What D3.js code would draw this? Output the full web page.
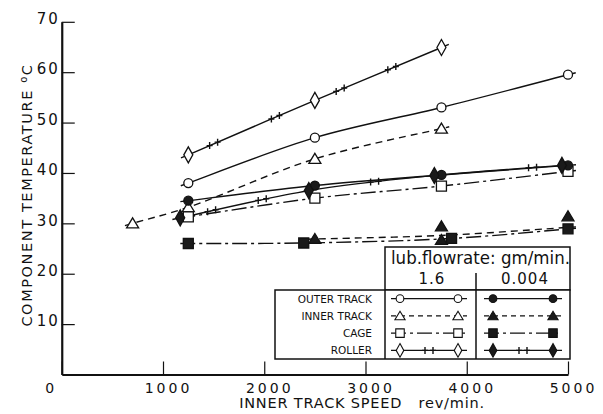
<!DOCTYPE html>
<html>
<head>
<meta charset="utf-8">
<script src="https://cdn.jsdelivr.net/npm/d3@7"></script>
<style>
    body { margin: 0; background: #fff; }
    svg { display: block; font-family: "DejaVu Sans", sans-serif; }
</style>
</head>
<body>
<svg id="chart" width="603" height="414"></svg>
<script>
// readings: [rev/min, deg C]
const outer16 = [[1250, 38.0], [2500, 47.0], [3750, 53.0], [5000, 59.5]]
const inner16 = [[700, 30.0], [1250, 33.2], [2500, 42.8], [3750, 48.8]]
const cage16 = [[1250, 31.3], [2500, 35.0], [3750, 37.4], [5000, 40.3]]
const roller16 = [[1250, 43.6], [2500, 54.4], [3750, 64.9]]

const outer0004 = [[1250, 34.5], [2500, 37.5], [3750, 39.6], [5000, 41.5]]
const inner0004 = [[2500, 26.9], [3750, 29.4], [3750, 26.7], [5000, 31.4]]
const inner0004Curve = [[2500, 26.9], [3750, 27.6], [5000, 29.2]]
const cage0004 = [[1250, 26.0], [2390, 26.1], [3850, 27.0], [5000, 28.9]]
const roller0004 = [[1170, 31.1], [2440, 36.5], [3680, 39.5], [4940, 41.5]]

// where the "++" marks sit on the roller curves (rev/min)
const roller16Crosses = [1500, 2110, 2750, 3260]
const roller0004Crosses = [1480, 1980, 3090, 4650]

const xTicks = [0, 1000, 2000, 3000, 4000, 5000]
const yTicks = [10, 20, 30, 40, 50, 60, 70]
const rowLabels = ["OUTER TRACK", "INNER TRACK", "CAGE", "ROLLER"]
const flowrates = ["1.6", "0.004"]

const svg = d3.select("#chart")

const x = d3.scaleLinear().domain([0, 5000]).range([61.75, 568])
const y = d3.scaleLinear().domain([0, 70]).range([374.5, 21.8])

// line styles by component
const dashes = {line: null, dashed: "7,5", dashdot: "15,4,3,4", roller: null}

const series = [
    {data: outer16, curve: outer16, shape: "circle", filled: false, style: "line"},
    {data: inner16, curve: inner16, shape: "triangle", filled: false, style: "dashed"},
    {data: cage16, curve: cage16, shape: "square", filled: false, style: "dashdot"},
    {data: roller16, curve: roller16, shape: "diamond", filled: false, style: "roller", crosses: roller16Crosses},
    {data: outer0004, curve: outer0004, shape: "circle", filled: true, style: "line"},
    {data: inner0004, curve: inner0004Curve, shape: "triangle", filled: true, style: "dashed"},
    {data: cage0004, curve: cage0004, shape: "square", filled: true, style: "dashdot"},
    {data: roller0004, curve: roller0004, shape: "diamond", filled: true, style: "roller", crosses: roller0004Crosses}
]

function shapePath(shape) {
    if (shape == "circle") return "M4.5,0A4.5,4.5 0 1,1 -4.5,0A4.5,4.5 0 1,1 4.5,0Z"
    if (shape == "triangle") return "M0,-5.5L6,4.5L-6,4.5Z"
    if (shape == "square") return "M-5,-5H5V5H-5Z"
    return "M0,-8L4.5,0L0,8L-4.5,0Z"
}

// axes
const yAxis = d3.axisLeft(y).tickValues(yTicks).tickFormat(d3.format("d"))
    .tickSize(-13).tickSizeOuter(0).tickPadding(2)
const xAxis = d3.axisBottom(x).tickValues(xTicks).tickFormat(d3.format("d"))
    .tickSize(-13).tickSizeOuter(0).tickPadding(9)

const gy = svg.append("g")
    .attr("transform", `translate(${x(0)},0)`)
    .call(yAxis)
gy.select(".domain").attr("stroke", "#111").attr("stroke-width", 2.2)
gy.selectAll(".tick line").attr("stroke", "#111").attr("stroke-width", 1.2)
gy.selectAll(".tick text")
    .attr("fill", "#111").attr("font-size", 15).attr("letter-spacing", 2)
    .attr("font-family", "DejaVu Sans").attr("y", -3)

const gx = svg.append("g")
    .attr("transform", `translate(0,${y(0)})`)
    .call(xAxis)
gx.select(".domain").attr("stroke", "#111").attr("stroke-width", 2.2)
gx.selectAll(".tick line").attr("stroke", "#111").attr("stroke-width", 1.2)
gx.selectAll(".tick text")
    .attr("fill", "#111").attr("font-size", 14).attr("letter-spacing", 3)
    .attr("font-family", "DejaVu Sans")
    .attr("x", d => d == 0 ? -11 : 5)

svg.append("text")
    .attr("x", 362).attr("y", 408)
    .attr("text-anchor", "middle")
    .attr("font-size", 14.5).attr("fill", "#111")
    .attr("letter-spacing", 0.8)
    .attr("xml:space", "preserve")
    .text("INNER TRACK SPEED   rev/min.")

svg.append("text")
    .attr("transform", "translate(32,195) rotate(-90)")
    .attr("text-anchor", "middle")
    .attr("font-size", 14.5).attr("fill", "#111")
    .attr("letter-spacing", 1.6)
    .text("COMPONENT TEMPERATURE ")
    .append("tspan").attr("font-size", 10).attr("dy", -5).text("o")
    .append("tspan").attr("font-size", 14.5).attr("dy", 5).text("C")

// curves
const lineGen = d3.line().curve(d3.curveCatmullRom.alpha(0.5))

function withStubs(pts, len) {
    let a = pts[0], b = pts[1]
    let n = pts.length
    let c = pts[n - 1], d = pts[n - 2]
    let l1 = Math.hypot(a[0] - b[0], a[1] - b[1])
    let l2 = Math.hypot(c[0] - d[0], c[1] - d[1])
    let start = [a[0] + (a[0] - b[0]) / l1 * len, a[1] + (a[1] - b[1]) / l1 * len]
    let end = [c[0] + (c[0] - d[0]) / l2 * len, c[1] + (c[1] - d[1]) / l2 * len]
    return [start, ...pts, end]
}

function pointAtX(node, px) {
    let lo = 0, hi = node.getTotalLength()
    for (let i = 0; i < 30; i++) {
        let mid = (lo + hi) / 2
        if (node.getPointAtLength(mid).x < px) lo = mid
        else hi = mid
    }
    return node.getPointAtLength(lo)
}

function drawCrosses(g, pts) {
    g.selectAll(".cross").data(pts)
        .join("path")
        .attr("class", "cross")
        .attr("d", "M-3,0H3M0,-3.5V3.5")
        .attr("transform", p => `translate(${p[0]},${p[1]})`)
        .attr("stroke", "#111").attr("stroke-width", 1.4).attr("fill", "none")
}

const plot = svg.append("g")
series.forEach(s => {
    let pts = s.curve.map(d => [x(d[0]), y(d[1])])
    let path = plot.append("path")
        .attr("d", lineGen(withStubs(pts, 8)))
        .attr("fill", "none")
        .attr("stroke", "#111")
        .attr("stroke-width", 1.4)
        .attr("stroke-dasharray", dashes[s.style])
    if (s.crosses) {
        let node = path.node()
        let cp = []
        s.crosses.forEach(v => {
            let px = x(v)
            let p1 = pointAtX(node, px - 4), p2 = pointAtX(node, px + 4)
            cp.push([p1.x, p1.y], [p2.x, p2.y])
        })
        drawCrosses(plot.append("g"), cp)
    }
})

series.forEach(s => {
    plot.append("g").selectAll("path").data(s.data)
        .join("path")
        .attr("d", shapePath(s.shape))
        .attr("transform", d => `translate(${x(d[0])},${y(d[1])})`)
        .attr("fill", s.filled ? "#1a1a1a" : "#fff")
        .attr("stroke", "#111")
        .attr("stroke-width", 1.3)
})

// legend table
const lg = svg.append("g")
const box = {left: 275, mid: 385, div: 476, right: 570, top: 247, head: 290, bottom: 359}

lg.append("rect")
    .attr("x", box.mid).attr("y", box.top)
    .attr("width", box.right - box.mid).attr("height", box.head - box.top)
    .attr("fill", "#fff").attr("stroke", "#111").attr("stroke-width", 1.5)
lg.append("rect")
    .attr("x", box.left).attr("y", box.head)
    .attr("width", box.right - box.left).attr("height", box.bottom - box.head)
    .attr("fill", "#fff").attr("stroke", "#111").attr("stroke-width", 1.5)
lg.append("line")
    .attr("x1", box.mid).attr("x2", box.mid).attr("y1", box.head).attr("y2", box.bottom)
    .attr("stroke", "#111").attr("stroke-width", 1.5)
lg.append("line")
    .attr("x1", box.div).attr("x2", box.div).attr("y1", 273).attr("y2", box.bottom)
    .attr("stroke", "#111").attr("stroke-width", 1.5)

lg.append("text")
    .attr("x", 391).attr("y", 264)
    .attr("font-size", 17).attr("fill", "#111")
    .attr("textLength", 179).attr("lengthAdjust", "spacingAndGlyphs")
    .text("lub.flowrate: gm/min.")

lg.selectAll(".flow").data(flowrates)
    .join("text")
    .attr("class", "flow")
    .attr("x", (d, i) => i == 0 ? 432 : 525)
    .attr("y", 284)
    .attr("text-anchor", "middle")
    .attr("font-size", 15).attr("fill", "#111")
    .attr("letter-spacing", 1)
    .text(d => d)

const rowH = (box.bottom - box.head) / rowLabels.length
const rowY = i => box.head + rowH * (i + 0.5)

lg.selectAll(".rowlabel").data(rowLabels)
    .join("text")
    .attr("class", "rowlabel")
    .attr("x", 372)
    .attr("y", (d, i) => rowY(i) + 4)
    .attr("text-anchor", "end")
    .attr("font-size", 10.5).attr("fill", "#111")
    .text(d => d)

const cols = [[400, 458], [493, 553]]
series.forEach((s, k) => {
    let col = s.filled ? 1 : 0
    let row = k % 4
    let cy = rowY(row)
    let [a, b] = cols[col]
    lg.append("line")
        .attr("x1", a - 9).attr("x2", b + 9).attr("y1", cy).attr("y2", cy)
        .attr("stroke", "#111").attr("stroke-width", 1.2)
        .attr("stroke-dasharray", s.style == "dashed" ? "5,4" : dashes[s.style])
    if (s.crosses) {
        let m = (a + b) / 2
        drawCrosses(lg.append("g"), [[m - 4, cy], [m + 4, cy]])
    }
    lg.append("g").selectAll("path").data([a, b])
        .join("path")
        .attr("d", shapePath(s.shape))
        .attr("transform", d => `translate(${d},${cy}) scale(0.85)`)
        .attr("fill", s.filled ? "#1a1a1a" : "#fff")
        .attr("stroke", "#111")
        .attr("stroke-width", 1.3)
})
</script>
</body>
</html>
